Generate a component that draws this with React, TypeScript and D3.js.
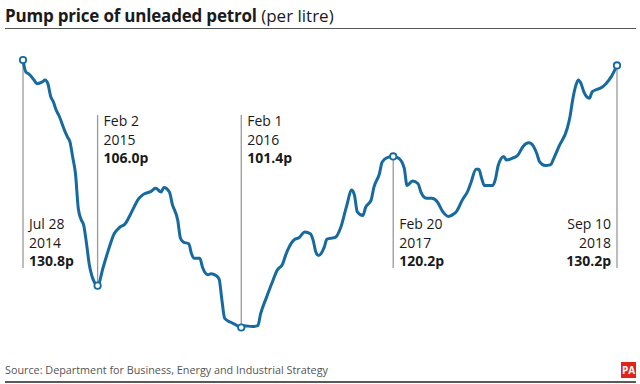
import React from 'react';
import * as d3 from 'd3';

// weekly pump price readings (pence per litre)
const dates: string[] = [
  '2014-07-28', '2014-08-04', '2014-08-11', '2014-08-25', '2014-09-01', '2014-09-15', '2014-09-22',
  '2014-09-29', '2014-10-06', '2014-10-13', '2014-10-20', '2014-10-27', '2014-11-10', '2014-11-17',
  '2014-11-24', '2014-12-01', '2014-12-08', '2014-12-15', '2014-12-22', '2014-12-29', '2015-01-05',
  '2015-01-12', '2015-01-19', '2015-01-26', '2015-02-02', '2015-02-16', '2015-03-02', '2015-03-16',
  '2015-03-30', '2015-04-13', '2015-04-27', '2015-05-18', '2015-05-25', '2015-06-01', '2015-06-15',
  '2015-06-29', '2015-07-13', '2015-07-20', '2015-08-03', '2015-08-10', '2015-08-24', '2015-08-31',
  '2015-09-07', '2015-09-21', '2015-09-28', '2015-10-05', '2015-10-19', '2015-10-26', '2015-11-09',
  '2015-11-16', '2015-11-30', '2015-12-07', '2015-12-14', '2015-12-21', '2016-01-04', '2016-01-18',
  '2016-02-01', '2016-02-08', '2016-02-29', '2016-03-14', '2016-03-21', '2016-04-04', '2016-04-18',
  '2016-05-02', '2016-05-16', '2016-05-23', '2016-06-13', '2016-06-27', '2016-07-11', '2016-07-25',
  '2016-08-01', '2016-08-08', '2016-08-15', '2016-08-29', '2016-09-05', '2016-09-26', '2016-10-10',
  '2016-10-24', '2016-11-07', '2016-11-14', '2016-11-21', '2016-12-05', '2016-12-12', '2016-12-26',
  '2017-01-02', '2017-01-16', '2017-01-23', '2017-02-06', '2017-02-20', '2017-03-06', '2017-03-20',
  '2017-03-27', '2017-04-10', '2017-04-24', '2017-05-01', '2017-05-15', '2017-05-29', '2017-06-12',
  '2017-06-26', '2017-07-10', '2017-07-24', '2017-07-31', '2017-08-14', '2017-08-28', '2017-09-04',
  '2017-09-18', '2017-09-25', '2017-10-02', '2017-10-09', '2017-10-30', '2017-11-06', '2017-11-13',
  '2017-11-27', '2017-12-04', '2017-12-18', '2018-01-01', '2018-01-15', '2018-01-29', '2018-02-05',
  '2018-02-19', '2018-02-26', '2018-03-12', '2018-03-26', '2018-04-02', '2018-04-16', '2018-05-07',
  '2018-05-14', '2018-05-21', '2018-05-28', '2018-06-04', '2018-06-11', '2018-06-18', '2018-07-02',
  '2018-07-09', '2018-07-23', '2018-07-30', '2018-08-13', '2018-08-27', '2018-09-10',
];

const prices: number[] = [
  130.8, 129.5, 129.3, 128.6, 128.2, 128.4, 128.6,
  128.2, 126.8, 126.2, 125.3, 124.7, 123.1, 122.4,
  121.8, 120.1, 118.3, 114.5, 113.3, 112.6, 110.6,
  108.3, 107.0, 106.3, 106.0, 108.0, 110.0, 111.7,
  112.4, 112.8, 113.9, 115.6, 115.9, 116.1, 116.3,
  116.7, 116.3, 116.8, 116.3, 115.0, 113.2, 111.2,
  110.8, 110.6, 109.5, 109.0, 109.0, 108.0, 107.2,
  107.3, 107.1, 106.7, 104.4, 102.4, 102.0, 101.7,
  101.4, 101.6, 101.5, 101.6, 102.9, 104.6, 106.2,
  107.7, 108.4, 109.3, 111.0, 111.3, 111.9, 111.7,
  111.0, 109.7, 109.3, 110.2, 111.1, 111.3, 112.4,
  114.6, 116.5, 115.9, 114.1, 113.7, 114.6, 115.4,
  116.8, 118.3, 119.6, 120.1, 120.2, 120.0, 118.9,
  117.0, 117.5, 117.2, 116.3, 115.6, 115.6, 115.2,
  114.1, 113.6, 113.9, 114.2, 115.4, 116.4, 117.2,
  118.8, 118.8, 117.8, 117.0, 117.0, 117.7, 119.2,
  120.2, 119.8, 120.0, 120.3, 121.3, 121.7, 121.6,
  120.5, 119.6, 119.2, 119.3, 119.9, 121.3, 123.3,
  124.6, 126.5, 127.9, 128.6, 128.2, 127.3, 126.6,
  127.3, 127.6, 127.7, 128.2, 129.0, 130.2,
];

// annotated readings
const noteDates: string[] = ['2014-07-28', '2015-02-02', '2016-02-01', '2017-02-20', '2018-09-10'];
const noteDays: string[] = ['Jul 28', 'Feb 2', 'Feb 1', 'Feb 20', 'Sep 10'];
const noteYears: string[] = ['2014', '2015', '2016', '2017', '2018'];
const noteValues: string[] = ['130.8p', '106.0p', '101.4p', '120.2p', '130.2p'];
// whether the label sits above the point (true) or below it
const noteAbove: boolean[] = [false, true, true, false, false];

const title = 'Pump price of unleaded petrol';
const subtitle = ' (per litre)';
const source = 'Source: Department for Business, Energy and Industrial Strategy';

const W = 640;
const H = 384;
const blue = '#176a9f';
const font = '"Open Sans", sans-serif';

const App: React.FC = () => {
  const parse = d3.timeParse('%Y-%m-%d');
  const points = dates.map((d, i) => ({ date: parse(d) as Date, value: prices[i] }));

  const x = d3
    .scaleTime()
    .domain([parse('2014-07-28') as Date, parse('2018-09-10') as Date])
    .range([23, 617]);

  const y = d3.scaleLinear().domain([101.4, 130.8]).range([327.5, 60]);

  const line = d3
    .line<{ date: Date; value: number }>()
    .x((d) => x(d.date))
    .y((d) => y(d.value))
    .curve(d3.curveMonotoneX);

  return (
    <svg
      width={W}
      height={H}
      style={{ position: 'absolute', left: 0, top: 0, background: '#fff' }}
      fontFamily={font}
    >
      <rect width={W} height={H} fill="#fff" />

      {/* Title */}
      <text x={5} y={22} fontSize={17} fill="#1a1a1a">
        <tspan fontWeight="bold" letterSpacing={-0.2}>{title}</tspan>
        <tspan>{subtitle}</tspan>
      </text>
      <line x1={5} x2={636} y1={28.5} y2={28.5} stroke="#555" strokeWidth={1.2} />

      {/* Annotation rules */}
      {noteDates.map((d, i) => {
        const px = x(parse(d) as Date);
        const py = y(parseFloat(noteValues[i]));
        const y1 = noteAbove[i] ? 115 : py;
        const y2 = noteAbove[i] ? py : 268;
        return <line key={'r' + i} x1={px} x2={px} y1={y1} y2={y2} stroke="#999" strokeWidth={1.3} />;
      })}

      {/* Series */}
      <path d={line(points) || ''} fill="none" stroke={blue} strokeWidth={3} strokeLinejoin="round" />

      {noteDates.map((d, i) => (
        <circle
          key={'c' + i}
          cx={x(parse(d) as Date)}
          cy={y(parseFloat(noteValues[i]))}
          r={3.2}
          fill="#fff"
          stroke={blue}
          strokeWidth={1.8}
        />
      ))}

      {/* Annotation labels */}
      {noteDates.map((d, i) => {
        const px = x(parse(d) as Date);
        const last = i === noteDates.length - 1;
        const tx = last ? px - 6 : px + 6;
        const base = noteAbove[i] ? 126 : 229;
        return (
          <text key={'t' + i} x={tx} fontSize={14} fill="#1a1a1a" textAnchor={last ? 'end' : 'start'}>
            <tspan x={tx} y={base}>{noteDays[i]}</tspan>
            <tspan x={tx} y={base + 18.5}>{noteYears[i]}</tspan>
            <tspan x={tx} y={base + 37} fontWeight="bold">{noteValues[i]}</tspan>
          </text>
        );
      })}

      {/* Footer */}
      <text x={5} y={374} fontSize={10.8} fill="#555">{source}</text>
      <rect x={621} y={362} width={15} height={16} fill="#e2231a" />
      <text x={628.5} y={374} fontSize={10} fontWeight="bold" fill="#fff" textAnchor="middle">PA</text>
      <line x1={5} x2={636} y1={382} y2={382} stroke="#222" strokeWidth={1.5} />
    </svg>
  );
};

export default App;
